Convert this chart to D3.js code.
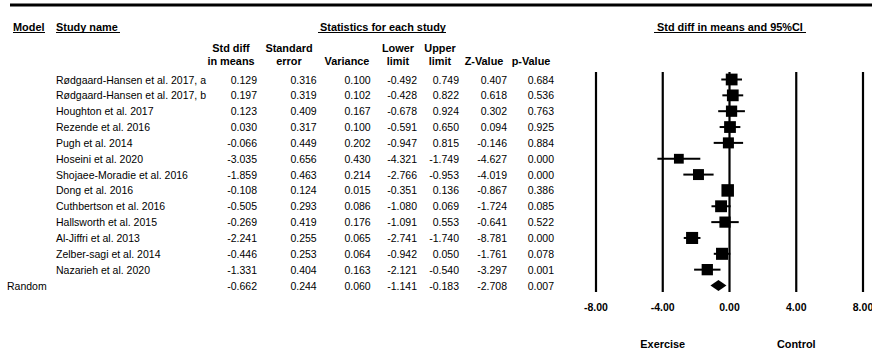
<!DOCTYPE html>
<html>
<head>
<meta charset="utf-8">
<script src="https://cdn.jsdelivr.net/npm/d3@7"></script>
<style>
 body { margin: 0; background: #fff; }
 text { font-family: "Liberation Sans", Arial, sans-serif; fill: #000; }
 .hd { font-weight: bold; font-size: 10.9px; }
 .cell { font-size: 10.5px; }
 .tick { font-weight: bold; font-size: 10.5px; }
</style>
</head>
<body>
<div id="chart"></div>
<script>
// forest plot data
var studies = ["Rødgaard-Hansen et al. 2017, a", "Rødgaard-Hansen et al. 2017, b", "Houghton et al. 2017",
 "Rezende et al. 2016", "Pugh et al. 2014", "Hoseini et al. 2020", "Shojaee-Moradie et al. 2016",
 "Dong et al. 2016", "Cuthbertson et al. 2016", "Hallsworth et al. 2015", "Al-Jiffri et al. 2013",
 "Zelber-sagi et al. 2014", "Nazarieh et al. 2020"];
var stdDiff = [0.129, 0.197, 0.123, 0.030, -0.066, -3.035, -1.859, -0.108, -0.505, -0.269, -2.241, -0.446, -1.331];
var stdErr = [0.316, 0.319, 0.409, 0.317, 0.449, 0.656, 0.463, 0.124, 0.293, 0.419, 0.255, 0.253, 0.404];
var variance = [0.100, 0.102, 0.167, 0.100, 0.202, 0.430, 0.214, 0.015, 0.086, 0.176, 0.065, 0.064, 0.163];
var lower = [-0.492, -0.428, -0.678, -0.591, -0.947, -4.321, -2.766, -0.351, -1.080, -1.091, -2.741, -0.942, -2.121];
var upper = [0.749, 0.822, 0.924, 0.650, 0.815, -1.749, -0.953, 0.136, 0.069, 0.553, -1.740, 0.050, -0.540];
var zValue = [0.407, 0.618, 0.302, 0.094, -0.146, -4.627, -4.019, -0.867, -1.724, -0.641, -8.781, -1.761, -3.297];
var pValue = [0.684, 0.536, 0.763, 0.925, 0.884, 0.000, 0.000, 0.386, 0.085, 0.522, 0.000, 0.078, 0.001];

// summary (random effects)
var summaryLabel = "Random";
var summary = [-0.662, 0.244, 0.060, -1.141, -0.183, -2.708, 0.007];

var colTitles = [["Std diff", "in means"], ["Standard", "error"], ["", "Variance"], ["Lower", "limit"],
 ["Upper", "limit"], ["", "Z-Value"], ["", "p-Value"]];
var axisTicks = [-8, -4, 0, 4, 8];
var sideLabels = ["Exercise", "Control"];

var W = 872, H = 352;
var svg = d3.select("#chart").append("svg")
 .attr("width", W)
 .attr("height", H);

// top rule
svg.append("line")
 .attr("x1", 10).attr("x2", W)
 .attr("y1", 5).attr("y2", 5)
 .attr("stroke", "#000").attr("stroke-width", 3);

// scales
var x = d3.scaleLinear().domain([-8, 8]).range([596, 863]);
var rows = studies.concat([summaryLabel]);
var y = d3.scalePoint().domain(d3.range(rows.length)).range([79.5, 285.5]);

// header row with underlines
function underlined(txt, xs, x1, x2) {
 svg.append("text").attr("class", "hd").attr("x", xs).attr("y", 31).text(txt);
 svg.append("line").attr("x1", x1).attr("x2", x2).attr("y1", 32.5).attr("y2", 32.5)
 .attr("stroke", "#000").attr("stroke-width", 1);
}
underlined("Model", 13, 13, 45);
underlined("Study name", 56, 56, 120);
underlined("Statistics for each study", 320, 318, 446);
underlined("Std diff in means and 95%CI", 657, 654, 806);

// value columns: right edge of the numbers, centre of the header
var colRight = [257, 316.7, 370.7, 417, 459, 507, 554];
var headCenter = [231, 289, 347, 398, 440, 484, 531];
var cols = [stdDiff, stdErr, variance, lower, upper, zValue, pValue];

colTitles.forEach(function(t, j) {
 svg.append("text").attr("class", "hd").attr("text-anchor", "middle")
 .attr("x", headCenter[j]).attr("y", 51.5).text(t[0]);
 svg.append("text").attr("class", "hd").attr("text-anchor", "middle")
 .attr("x", headCenter[j]).attr("y", 64.5).text(t[1]);
});

// table body
svg.selectAll("text.name")
 .data(studies)
 .enter()
 .append("text")
 .attr("class", "cell name")
 .attr("x", 56)
 .attr("y", function(d, i) { return y(i) + 4; })
 .text(function(d) { return d; });

svg.append("text").attr("class", "cell")
 .attr("x", 7).attr("y", y(studies.length) + 4)
 .text(summaryLabel);

cols.forEach(function(col, j) {
 var vals = col.concat([summary[j]]);
 svg.selectAll("text.c" + j)
 .data(vals)
 .enter()
 .append("text")
 .attr("class", "cell c" + j)
 .attr("text-anchor", "end")
 .attr("x", colRight[j])
 .attr("y", function(d, i) { return y(i) + 4; })
 .text(function(d) { return d.toFixed(3); });
});

// reference lines
svg.selectAll("line.ref")
 .data(axisTicks)
 .enter()
 .append("line")
 .attr("class", "ref")
 .attr("x1", function(d) { return x(d); })
 .attr("x2", function(d) { return x(d); })
 .attr("y1", 72).attr("y2", 292)
 .attr("stroke", "#000").attr("stroke-width", 2.2);

svg.selectAll("text.tick")
 .data(axisTicks)
 .enter()
 .append("text")
 .attr("class", "tick")
 .attr("text-anchor", "middle")
 .attr("x", function(d) { return x(d); })
 .attr("y", 310.5)
 .text(function(d) { return d.toFixed(2); });

// random-effects weights for box size (DerSimonian-Laird)
var wf = variance.map(function(v) { return 1 / v; });
var sw = d3.sum(wf);
var ybar = d3.sum(wf, function(w, i) { return w * stdDiff[i]; }) / sw;
var Q = d3.sum(wf, function(w, i) { return w * Math.pow(stdDiff[i] - ybar, 2); });
var C = sw - d3.sum(wf, function(w) { return w * w; }) / sw;
var tau2 = Math.max(0, (Q - (studies.length - 1)) / C);
var wr = variance.map(function(v) { return 1 / (v + tau2); });
var side = d3.scaleSqrt().domain([0, d3.max(wr)]).range([0, 12.5]);

// CI lines
svg.selectAll("line.ci")
 .data(studies)
 .enter()
 .append("line")
 .attr("class", "ci")
 .attr("x1", function(d, i) { return x(lower[i]); })
 .attr("x2", function(d, i) { return x(upper[i]); })
 .attr("y1", function(d, i) { return y(i); })
 .attr("y2", function(d, i) { return y(i); })
 .attr("stroke", "#000").attr("stroke-width", 2);

svg.selectAll("rect.box")
 .data(studies)
 .enter()
 .append("rect")
 .attr("class", "box")
 .attr("x", function(d, i) { return x(stdDiff[i]) - side(wr[i]) / 2; })
 .attr("y", function(d, i) { return y(i) - side(wr[i]) / 2; })
 .attr("width", function(d, i) { return side(wr[i]); })
 .attr("height", function(d, i) { return side(wr[i]); })
 .attr("fill", "#000");

// summary diamond
var ys = y(studies.length);
svg.append("path")
 .attr("d", "M" + x(summary[3]) + "," + ys +
 "L" + x(summary[0]) + "," + (ys - 5.5) +
 "L" + x(summary[4]) + "," + ys +
 "L" + x(summary[0]) + "," + (ys + 5.5) + "Z")
 .attr("fill", "#000");

// favours labels
svg.selectAll("text.side")
 .data(sideLabels)
 .enter()
 .append("text")
 .attr("class", "hd side")
 .attr("text-anchor", "middle")
 .attr("x", function(d, i) { return x(i === 0 ? -4 : 4); })
 .attr("y", 348)
 .text(function(d) { return d; });
</script>
</body>
</html>
